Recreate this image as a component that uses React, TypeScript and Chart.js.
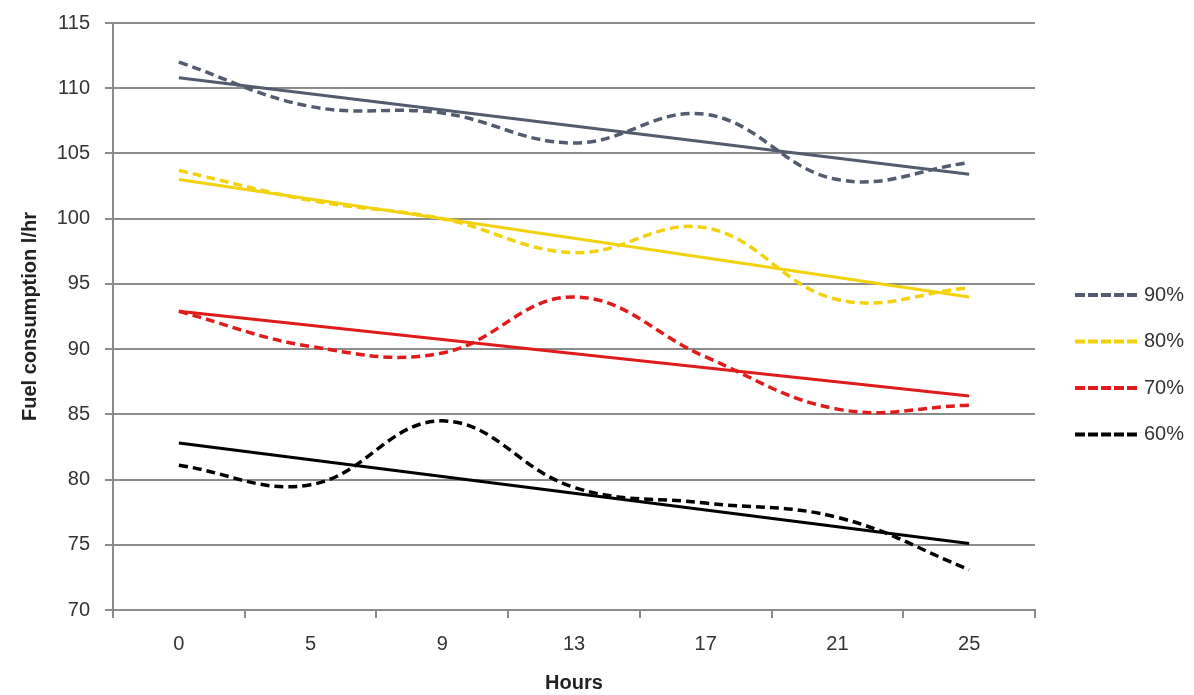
import React, { useEffect, useRef } from "react";
import { Chart, registerables } from "chart.js";

Chart.register(...registerables);

// Categories (hours)
const hours = ["0", "5", "9", "13", "17", "21", "25"];

// Measured (smoothed, dashed) series
const load90 = [112.0, 108.6, 108.1, 105.8, 108.0, 103.0, 104.3];
const load80 = [103.7, 101.4, 100.0, 97.4, 99.3, 93.8, 94.7];
const load70 = [92.9, 90.2, 89.7, 94.0, 89.4, 85.4, 85.7];
const load60 = [81.1, 79.6, 84.5, 79.4, 78.2, 77.1, 73.1];

// Linear trend lines: value at first and last category
const trend90 = [110.8, 103.4];
const trend80 = [103.0, 94.0];
const trend70 = [92.9, 86.4];
const trend60 = [82.8, 75.1];

const seriesLabels = ["90%", "80%", "70%", "60%"];
const seriesColors = ["#525c6e", "#f2d20c", "#e01b1b", "#000000"];

const yTicks = [70, 75, 80, 85, 90, 95, 100, 105, 110, 115];

const FONT = "'Liberation Sans', Arial, sans-serif";
const GRID = "#8c8c8c";
const TEXT = "#333333";

function trendData(t: number[]) {
  const arr: (number | null)[] = hours.map(() => null);
  arr[0] = t[0];
  arr[hours.length - 1] = t[1];
  return arr;
}

const legendPlugin = {
  id: "sideLegend",
  afterDraw(chart: any) {
    const { ctx, chartArea } = chart;
    ctx.save();
    const x0 = chartArea.right + 40;
    const x1 = chartArea.right + 105;
    const yStart = chartArea.top + 272;
    const step = 46.5;
    seriesLabels.forEach((lab, i) => {
      const y = yStart + i * step;
      ctx.strokeStyle = seriesColors[i];
      ctx.lineWidth = 4;
      ctx.setLineDash([10, 3]);
      ctx.beginPath();
      ctx.moveTo(x0, y);
      ctx.lineTo(x1, y);
      ctx.stroke();
      ctx.setLineDash([]);
      ctx.fillStyle = TEXT;
      ctx.font = `20px ${FONT}`;
      ctx.textBaseline = "middle";
      ctx.textAlign = "left";
      ctx.fillText(lab, x1 + 4, y);
    });
    ctx.restore();
  },
};

export default function App() {
  const ref = useRef<HTMLCanvasElement | null>(null);

  useEffect(() => {
    if (!ref.current) return;
    const measured = [load90, load80, load70, load60];
    const trends = [trend90, trend80, trend70, trend60];
    const datasets: any[] = [];
    measured.forEach((d, i) => {
      datasets.push({
        label: seriesLabels[i] + " trend",
        data: trendData(trends[i]),
        borderColor: seriesColors[i],
        borderWidth: 3,
        pointRadius: 0,
        spanGaps: true,
        tension: 0,
        fill: false,
      });
      datasets.push({
        label: seriesLabels[i],
        data: d,
        borderColor: seriesColors[i],
        borderWidth: 3.5,
        borderDash: [9, 5],
        pointRadius: 0,
        tension: 0.4,
        fill: false,
      });
    });

    const chart = new Chart(ref.current, {
      type: "line",
      data: { labels: hours, datasets },
      plugins: [legendPlugin],
      options: {
        animation: false,
        responsive: true,
        maintainAspectRatio: false,
        layout: { padding: { top: 23, right: 159, left: 0, bottom: 0 } },
        plugins: { legend: { display: false }, tooltip: { enabled: false } },
        scales: {
          x: {
            type: "category",
            offset: true,
            grid: {
              offset: true,
              drawOnChartArea: false,
              drawTicks: true,
              tickLength: 8,
              color: GRID,
              lineWidth: 2,
            },
            border: { display: true, color: GRID, width: 2 },
            ticks: {
              padding: 14,
              color: TEXT,
              font: { family: FONT, size: 20 },
              maxRotation: 0,
            },
            title: {
              display: true,
              text: "Hours",
              color: "#222",
              font: { family: FONT, size: 20, weight: "bold" },
              padding: { top: 0, bottom: 0 },
            },
            afterFit: (s: any) => {
              s.height = 85;
            },
          },
          y: {
            min: 70,
            max: 115,
            afterBuildTicks: (s: any) => {
              s.ticks = yTicks.map((v) => ({ value: v }));
            },
            grid: {
              color: GRID,
              lineWidth: 2,
              drawTicks: true,
              tickLength: 8,
            },
            border: { display: true, color: GRID, width: 2 },
            ticks: {
              padding: 15,
              color: TEXT,
              font: { family: FONT, size: 20 },
            },
            title: {
              display: true,
              text: "Fuel consumption l/hr",
              color: "#222",
              font: { family: FONT, size: 20, weight: "bold" },
              padding: { top: 18, bottom: 0 },
            },
            afterFit: (s: any) => {
              s.width = 113;
              s.paddingTop = 0;
              s.paddingBottom = 0;
            },
          },
        },
      },
    });
    return () => chart.destroy();
  }, []);

  return (
    <div style={{ position: "absolute", left: 0, top: 0, width: 1194, height: 695 }}>
      <canvas ref={ref} />
    </div>
  );
}
